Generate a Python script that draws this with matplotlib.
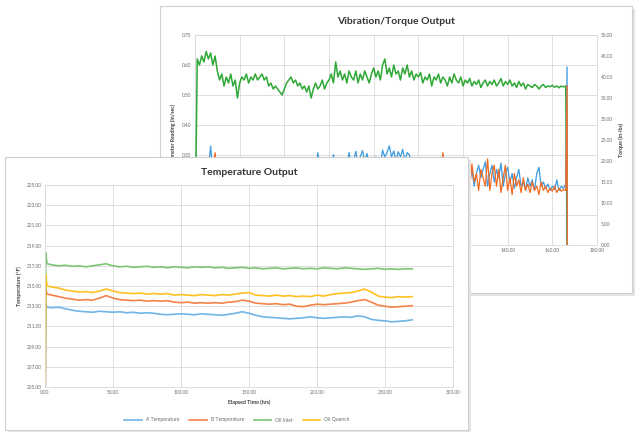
import numpy as np
import matplotlib
matplotlib.use('Agg')
import matplotlib.pyplot as plt
from matplotlib.patches import Rectangle
from matplotlib.ticker import MultipleLocator, FormatStrFormatter

plt.rcParams['font.family'] = ['Lato', 'DejaVu Sans']

# --- back chart: vibration / torque ---------------------------------------
vib_time = np.arange(0, 167)
vib_green = [
    0.00, 0.62, 0.60, 0.63, 0.61, 0.645, 0.62, 0.64, 0.60, 0.63,
    0.58, 0.55, 0.57, 0.53, 0.56, 0.54, 0.57, 0.53, 0.55, 0.49,
    0.54, 0.56, 0.55, 0.57, 0.54, 0.56, 0.55, 0.57, 0.55, 0.56,
    0.57, 0.55, 0.56, 0.53, 0.54, 0.52, 0.53, 0.52, 0.51, 0.50,
    0.52, 0.54, 0.55, 0.56, 0.54, 0.55, 0.53, 0.54, 0.52, 0.53,
    0.51, 0.53, 0.49, 0.52, 0.54, 0.52, 0.53, 0.55, 0.52, 0.54,
    0.55, 0.57, 0.54, 0.61, 0.56, 0.58, 0.55, 0.57, 0.54, 0.58,
    0.56, 0.55, 0.58, 0.54, 0.57, 0.55, 0.58, 0.56, 0.54, 0.57,
    0.59, 0.56, 0.58, 0.55, 0.60, 0.62, 0.57, 0.59, 0.56, 0.60,
    0.57, 0.58, 0.55, 0.59, 0.57, 0.60, 0.56, 0.58, 0.55, 0.57,
    0.56, 0.575, 0.54, 0.56, 0.55, 0.57, 0.53, 0.56, 0.55, 0.57,
    0.54, 0.56, 0.55, 0.53, 0.56, 0.54, 0.57, 0.55, 0.54, 0.56,
    0.53, 0.55, 0.54, 0.555, 0.53, 0.545, 0.535, 0.55, 0.525, 0.54,
    0.55, 0.53, 0.545, 0.535, 0.55, 0.53, 0.54, 0.555, 0.53, 0.545,
    0.535, 0.55, 0.53, 0.54, 0.525, 0.545, 0.53, 0.54, 0.52, 0.535,
    0.53, 0.525, 0.535, 0.53, 0.52, 0.53, 0.535, 0.525, 0.53, 0.528,
    0.532, 0.526, 0.53, 0.524, 0.53, 0.527, 0.53,
]
vib_blue = [
    0, 17, 16, 18, 17, 19, 18, 23.6, 17, 16,
    18, 17, 16, 18, 17, 16, 17, 18, 16, 17,
    18, 16, 17, 18, 17, 16, 18, 17, 16, 17,
    18, 17, 16, 18, 17, 19, 17, 16, 18, 17,
    16, 18, 17, 19, 18, 17, 16, 18, 17, 19,
    18, 17, 19, 18, 17, 22.0, 18, 17, 19, 18,
    17, 19, 21.5, 18, 17, 19, 18, 20, 19, 22.0,
    19, 20, 22.3, 19, 21, 22.5, 20, 21.8, 19, 20,
    19, 21, 20, 19, 22.6, 21, 22.0, 23.6, 21, 22.4,
    20, 22.2, 21, 22.8, 20, 22.0, 21.5, 19, 20, 18,
    19, 18, 20, 19, 18, 17, 19, 18, 17, 18,
    19, 17, 18, 16, 18, 17, 19, 16, 18, 17,
    16, 18, 19.5, 15, 18, 14, 17, 19, 16, 18,
    19.8, 14, 17, 19, 15, 18, 16, 19.5, 14, 17,
    18.5, 15, 17, 13.5, 16, 18, 14, 15, 13, 16,
    14, 15.5, 13, 17, 18.5, 14, 15, 13.5, 14.5, 13,
    14, 13.2, 15.5, 13, 14, 13.5, 14.5,
]
vib_orange = [
    0, 16, 15, 17, 16, 15, 17, 16, 18, 22.0,
    16, 15, 17, 16, 15, 17, 16, 15, 17, 16,
    15, 17, 16, 15, 17, 16, 15, 16, 17, 15,
    16, 17, 15, 16, 17, 16, 15, 17, 16, 15,
    17, 16, 15, 17, 16, 15, 17, 16, 15, 16,
    17, 15, 16, 17, 16, 15, 17, 16, 15, 17,
    16, 17, 15, 16, 17, 16, 18, 16, 17, 16,
    17, 18, 16, 17, 18, 16, 17, 18, 16, 17,
    18, 17, 16, 18, 17, 16, 18, 17, 16, 18,
    17, 16, 18, 17, 16, 17, 18, 16, 17, 16,
    17, 16, 18, 17, 16, 17, 15, 17, 16, 17,
    16, 22.0, 17, 15, 16, 17, 15, 18, 16, 17,
    19, 14, 18, 13.5, 19.3, 15, 17, 13, 18, 16,
    14, 20.5, 13, 17, 19, 14, 18, 12.5, 16, 19,
    13, 16, 12, 17, 14, 15.5, 12.5, 16, 13, 14.5,
    12.5, 15, 13, 14, 12, 15, 13, 14, 12.5, 13.5,
    12.8, 14, 12.5, 13.5, 12.8, 13.2, 13,
]
# shutdown at the end of the run
end_time = [166.6, 166.7]
end_green = [0.0, 0.0]
end_blue = [42.4, 0.0]
end_orange = [38.0, 0.0]

# --- front chart: temperatures --------------------------------------------
temp_time = [0, 0.5, 1.5] + list(range(5, 275, 5))
temp_a = [200, 213.2, 212.9,
    212.85, 212.9, 212.75, 212.6, 212.5, 212.45, 212.4, 212.5, 212.45, 212.4,
    212.45, 212.35, 212.4, 212.3, 212.35, 212.3, 212.2, 212.15, 212.2, 212.25,
    212.2, 212.15, 212.25, 212.2, 212.15, 212.1, 212.2, 212.3, 212.45, 212.3,
    212.1, 211.95, 211.9, 211.85, 211.8, 211.75, 211.8, 211.85, 211.95, 211.85,
    211.8, 211.85, 211.9, 211.95, 211.9, 212.05, 211.95, 211.7, 211.6, 211.55,
    211.45, 211.5, 211.55, 211.65]
temp_b = [200, 214.8, 214.2,
    214.1, 213.95, 213.8, 213.7, 213.6, 213.65, 213.6, 213.8, 214.05, 213.8,
    213.65, 213.6, 213.55, 213.6, 213.5, 213.55, 213.5, 213.55, 213.4, 213.35,
    213.4, 213.3, 213.35, 213.3, 213.35, 213.3, 213.4, 213.45, 213.6, 213.5,
    213.3, 213.25, 213.2, 213.25, 213.15, 213.2, 213.0, 212.95, 213.1, 213.2,
    213.15, 213.2, 213.25, 213.3, 213.4, 213.55, 213.65, 213.4, 213.1, 213.0,
    212.9, 212.95, 213.0, 213.05]
oil_inlet = [200, 218.3, 217.2,
    217.1, 217.0, 217.05, 216.95, 217.0, 216.9, 217.0, 217.1, 217.2, 217.0,
    216.9, 216.95, 216.85, 216.9, 216.95, 216.85, 216.9, 216.8, 216.9, 216.85,
    216.8, 216.9, 216.85, 216.9, 216.8, 216.85, 216.75, 216.8, 216.85, 216.75,
    216.8, 216.7, 216.75, 216.8, 216.7, 216.75, 216.8, 216.7, 216.75, 216.7,
    216.8, 216.75, 216.7, 216.8, 216.75, 216.7, 216.65, 216.7, 216.75, 216.65,
    216.7, 216.65, 216.7, 216.7]
oil_quench = [200, 216.1, 215.0,
    214.9, 214.8, 214.6, 214.5, 214.4, 214.45, 214.35, 214.5, 214.7, 214.5,
    214.35, 214.3, 214.25, 214.3, 214.2, 214.25, 214.2, 214.25, 214.1, 214.15,
    214.1, 214.05, 214.15, 214.1, 214.05, 214.15, 214.1, 214.2, 214.3, 214.35,
    214.1, 214.05, 214.0, 214.1, 214.0, 214.05, 213.95, 214.0, 213.95, 214.1,
    214.0, 214.15, 214.25, 214.3, 214.35, 214.5, 214.7, 214.4, 214.0, 213.9,
    213.85, 213.95, 213.9, 213.95]
temp_labels = ['A Temperature', 'B Temperature', 'Oil Inlet', 'Oil Quench']
temp_yticks = [205, 207, 209, 211, 213, 215, 217, 219, 221, 223, 225]

GRID = '#d9d9d9'
TICK = '#6a6a6a'
W, H = 641., 432.


def box(x0, y0, x1, y1):
    # pixel box (top-left origin) -> figure fraction [l, b, w, h]
    return [x0 / W, 1 - y1 / H, (x1 - x0) / W, (y1 - y0) / H]


def panel(fig, x0, y0, x1, y1, z):
    l, b, w, h = box(x0, y0, x1, y1)
    fig.add_artist(Rectangle((l + 3 / W, b - 3 / H), w, h, transform=fig.transFigure,
                             facecolor='#e4e4e4', edgecolor='none', zorder=z))
    fig.add_artist(Rectangle((l, b), w, h, transform=fig.transFigure,
                             facecolor='white', edgecolor='#cfcfcf', lw=0.8, zorder=z + 0.1))


def style(ax):
    for s in ax.spines.values():
        s.set_color(GRID)
        s.set_linewidth(0.6)
    ax.tick_params(length=0, labelsize=3.4, colors=TICK, pad=2.5)
    ax.grid(True, color=GRID, lw=0.6)
    ax.set_axisbelow(True)


fig = plt.figure(figsize=(6.41, 4.32), dpi=100)

# back panel
panel(fig, 160, 6, 632, 293, 0)
ax_v = fig.add_axes(box(195, 35, 597, 245), zorder=1)
ax_v.patch.set_alpha(0)
style(ax_v)
ax_v.set_xlim(0, 180)
ax_v.set_ylim(0, 0.70)
ax_v.xaxis.set_major_locator(MultipleLocator(20))
ax_v.yaxis.set_major_locator(MultipleLocator(0.10))
ax_v.xaxis.set_major_formatter(FormatStrFormatter('%.2f'))
ax_v.yaxis.set_major_formatter(FormatStrFormatter('%.2f'))
ax_v.set_ylabel('Accelerometer Reading (in/sec)', fontsize=3.8, fontweight='bold',
                color='#404040', labelpad=4)
ax_v.set_xlabel('Elapsed Time (hrs)', fontsize=3.8, fontweight='bold', color='#404040')
ax_v.set_title('Vibration/Torque Output', fontsize=7.5, fontweight='bold',
               color='#333333', pad=8)

ax_t = ax_v.twinx()
ax_t.set_zorder(1.2)
ax_t.patch.set_visible(False)
for s in ax_t.spines.values():
    s.set_visible(False)
ax_t.tick_params(length=0, labelsize=3.4, colors=TICK, pad=2.5)
ax_t.set_ylim(0, 50)
ax_t.yaxis.set_major_locator(MultipleLocator(5))
ax_t.yaxis.set_major_formatter(FormatStrFormatter('%.2f'))
ax_t.set_ylabel('Torque (in-lbs)', fontsize=3.8, fontweight='bold', color='#404040',
                labelpad=4)

ax_t.plot(list(vib_time) + end_time, vib_blue + end_blue, color='#3d9be0', lw=0.9)
ax_t.plot(list(vib_time) + end_time, vib_orange + end_orange, color='#f26b21', lw=0.9)
ax_v.plot(list(vib_time) + end_time, vib_green + end_green, color='#2fa836', lw=1.1, zorder=3)

# front panel
panel(fig, 5, 157, 468, 430, 2)
ax_f = fig.add_axes(box(45, 185, 453, 387), zorder=3)
style(ax_f)
ax_f.set_xlim(0, 300)
ax_f.set_ylim(205, 225)
ax_f.xaxis.set_major_locator(MultipleLocator(50))
ax_f.set_yticks(temp_yticks)
ax_f.xaxis.set_major_formatter(FormatStrFormatter('%.2f'))
ax_f.yaxis.set_major_formatter(FormatStrFormatter('%.2f'))
ax_f.set_title('Temperature Output', fontsize=7.5, fontweight='bold',
               color='#333333', pad=7)
ax_f.set_xlabel('Elapsed Time (hrs)', fontsize=3.8, fontweight='bold',
                color='#404040', labelpad=3)
ax_f.set_ylabel('Temperature (°F)', fontsize=3.8, fontweight='bold',
                color='#404040', labelpad=3)

colors = ['#6fb5e6', '#f4824a', '#7dc574', '#ffc020']
for series, c, lab in zip([temp_a, temp_b, oil_inlet, oil_quench], colors, temp_labels):
    ax_f.plot(temp_time, series, color=c, lw=1.2, label=lab)

fig.legend(loc='center', bbox_to_anchor=(237 / W, 1 - 420 / H), ncol=4,
           frameon=False, fontsize=3.6, handlelength=3.5, columnspacing=2.0,
           labelcolor=TICK)

fig.savefig('out.png', dpi=100)
